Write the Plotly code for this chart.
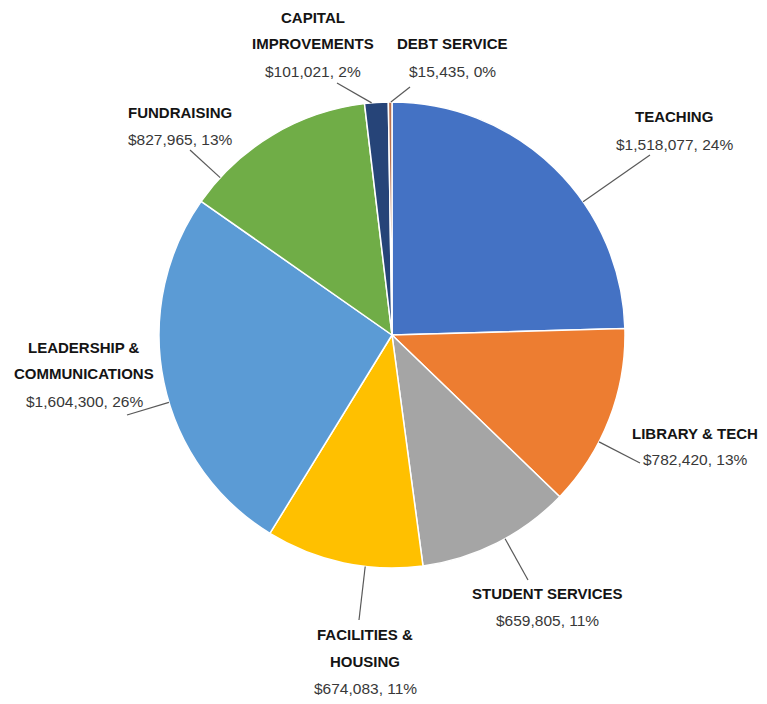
import math
import plotly.graph_objects as go

# data
categories = ["Teaching", "Library & Tech", "Student Services", "Facilities & Housing",
              "Leadership & Communications", "Fundraising", "Capital Improvements", "Debt Service"]
label_names = ["TEACHING", "LIBRARY & TECH", "STUDENT SERVICES", "FACILITIES &\nHOUSING",
               "LEADERSHIP &\nCOMMUNICATIONS", "FUNDRAISING", "CAPITAL\nIMPROVEMENTS", "DEBT SERVICE"]
values = [1518077, 782420, 659805, 674083, 1604300, 827965, 101021, 15435]
percents = ["24%", "13%", "11%", "11%", "26%", "13%", "2%", "0%"]

colors = ["#4472C4", "#ED7D31", "#A5A5A5", "#FFC000", "#5B9BD5", "#70AD47", "#264478", "#B8704E"]

OFF = 8  # page margin of the browser
W, H = 767 - 2 * OFF, 704 - 2 * OFF
CX, CY, R = 392, 335, 233
LINE_H = 27

# label placement (screen pixels): text centre x, first line y, leader end on the text side
placement = [
    (674, 117, (650, 155)),
    (695, 433, (640, 463)),
    (547, 593, (528, 580)),
    (365, 634, (359, 620)),
    (84, 347, (127, 415)),
    (180, 112, (190, 150)),
    (313, 17, (337, 83)),
    (452, 44, (410, 87)),
]

def px(x):
    return (x - OFF) / W

def py(y):
    return 1 - (y - OFF) / H

fig = go.Figure(go.Pie(
    labels=categories, values=values, sort=False, direction="clockwise", rotation=0,
    marker=dict(colors=colors, line=dict(color="white", width=1.5)),
    textinfo="none", showlegend=False,
    domain=dict(x=[px(CX - R), px(CX + R)], y=[py(CY + R), py(CY - R)]),
))

font_name = "Liberation Sans, Arial, sans-serif"
total = sum(values)
annotations = []
shapes = []
cum = 0
for name, v, pct, (tx, ty, (ex, ey)) in zip(label_names, values, percents, placement):
    a0 = cum / total * 360
    cum += v
    a1 = cum / total * 360
    # leader starts on the slice edge, in the slice, as close as possible to the label
    phi = math.degrees(math.atan2(ex - CX, -(ey - CY))) % 360
    margin = min(2.0, (a1 - a0) * 0.3)
    lo, hi = a0 + margin, a1 - margin
    if not lo <= phi <= hi:
        d_lo = min(abs(phi - lo), 360 - abs(phi - lo))
        d_hi = min(abs(phi - hi), 360 - abs(phi - hi))
        phi = lo if d_lo < d_hi else hi
    t = math.radians(phi)
    sx = CX + R * math.sin(t)
    sy = CY - R * math.cos(t)
    shapes.append(dict(type="line", xref="paper", yref="paper",
                       x0=px(sx), y0=py(sy), x1=px(ex), y1=py(ey),
                       line=dict(color="#595959", width=1.2)))
    lines = [(f"<b>{s}</b>", "#141414", 15) for s in name.split("\n")]
    lines.append((f"${v:,}, {pct}", "#383838", 15.5))
    for i, (txt, col, size) in enumerate(lines):
        annotations.append(dict(x=px(tx), y=py(ty + i * LINE_H), xref="paper", yref="paper",
                                text=txt, showarrow=False, xanchor="center", yanchor="middle",
                                font=dict(family=font_name, size=size, color=col)))

fig.update_layout(
    width=W, height=H, margin=dict(l=0, r=0, t=0, b=0),
    paper_bgcolor="white", plot_bgcolor="white",
    annotations=annotations, shapes=shapes,
)

fig.write_html("out.html")
